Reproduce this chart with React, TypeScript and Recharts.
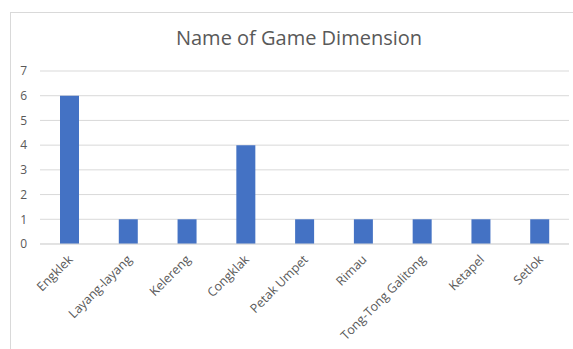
import { BarChart, Bar, XAxis, YAxis, CartesianGrid } from 'recharts'

// game names and how many times each one was mentioned
const games = [
  'Engklek',
  'Layang-layang',
  'Kelereng',
  'Congklak',
  'Petak Umpet',
  'Rimau',
  'Tong-Tong Galitong',
  'Ketapel',
  'Setlok',
]
const counts = [6, 1, 1, 4, 1, 1, 1, 1, 1]
const yTicks = [0, 1, 2, 3, 4, 5, 6, 7]

const data = games.map((name, i) => ({ name, count: counts[i] }))

const FONT = '"Open Sans", "Liberation Sans", sans-serif'

export default function App() {
  return (
    <div style={{ position: 'absolute', left: 0, top: 0, width: 573, height: 349, overflow: 'hidden', background: '#fff', fontFamily: FONT }}>
      {/* chart frame, runs off the right and bottom of the shot */}
      <div style={{ position: 'absolute', left: 10, top: 12, width: 620, height: 400, border: '1px solid #d9d9d9' }} />
      <div style={{ position: 'absolute', left: 0, width: 598, top: 24, textAlign: 'center', fontSize: 20, color: '#595959' }}>
        Name of Game Dimension
      </div>
      <div style={{ position: 'absolute', left: 0, top: 0 }}>
        <BarChart width={573} height={349} data={data} margin={{ top: 71, right: 4, left: 10, bottom: 0 }}>
          <CartesianGrid vertical={false} stroke="#d9d9d9" />
          <XAxis
            dataKey="name"
            interval={0}
            height={105}
            angle={-45}
            textAnchor="end"
            tickLine={false}
            axisLine={{ stroke: '#d9d9d9' }}
            tick={{ fill: '#595959', fontSize: 12.5, fontFamily: FONT, dx: -2 }}
            tickSize={0}
            tickMargin={10}
          />
          <YAxis
            width={30}
            domain={[0, 7]}
            ticks={yTicks}
            axisLine={false}
            tickLine={false}
            tickSize={0}
            tickMargin={13}
            tick={{ fill: '#595959', fontSize: 12, fontFamily: FONT }}
          />
          <Bar dataKey="count" fill="#4472c4" barSize={19} isAnimationActive={false} />
        </BarChart>
      </div>
    </div>
  )
}
